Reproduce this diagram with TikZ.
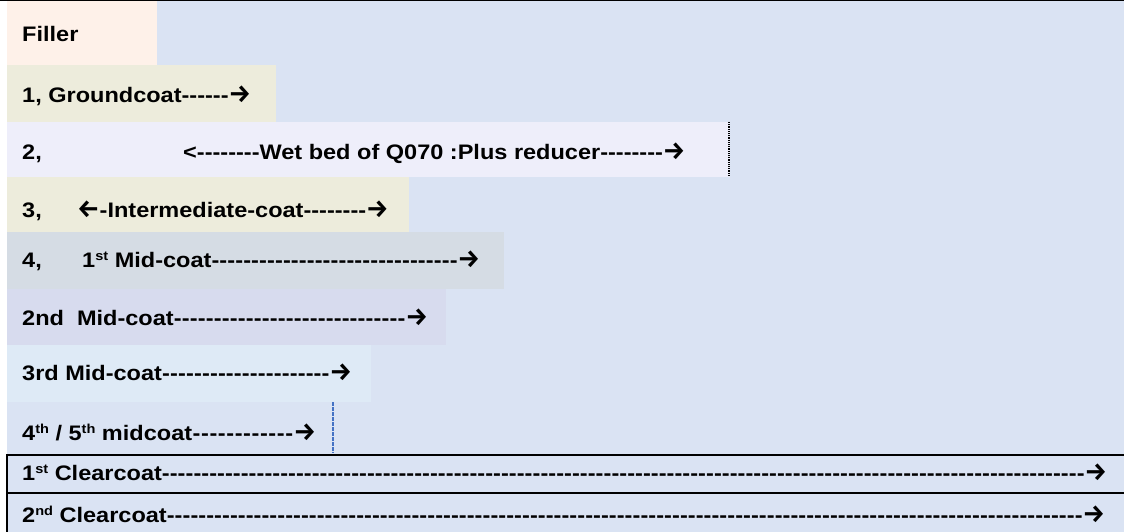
\documentclass[tikz,border=0pt]{standalone}
\usepackage{fontspec}
\setmainfont{Liberation Sans}[Ligatures=TeXOff]
\newfontfamily\widefont{Liberation Sans}[FakeStretch=1.12,Ligatures=TeXOff]
\newfontfamily\arrowfont{Fira Sans}
\definecolor{bgblue}{HTML}{DAE3F3}
\definecolor{cfiller}{HTML}{FEF1E9}
\definecolor{cground}{HTML}{EDECDC}
\definecolor{cwet}{HTML}{EEEEFA}
\definecolor{cmidone}{HTML}{D5DCE4}
\definecolor{cmidtwo}{HTML}{D7DBEE}
\definecolor{cmidthree}{HTML}{DEEAF6}
\definecolor{dashblue}{HTML}{4472C4}
\newcommand{\rarr}{{\arrowfont\bfseries\fontsize{25}{25}\selectfont →}}
\newcommand{\larr}{{\arrowfont\bfseries\fontsize{25}{25}\selectfont ←}}
\newcommand{\sups}[1]{\raisebox{7pt}{\fontsize{13}{13}\selectfont #1}}
\newcommand{\dfill}[2]{\hbox to #1{#2\xleaders\hbox{-}\hfill\rarr}}
\begin{document}
\begin{tikzpicture}[x=1pt,y=-1pt,
  rowbox/.style={anchor=north west, inner sep=0pt, outer sep=0pt, draw=none},
  clearbox/.style={anchor=north west, inner sep=0pt, outer sep=0pt, draw=black, line width=1.6pt, fill=bgblue},
  lbl/.style={anchor=base west, inner sep=0pt, font=\widefont\bfseries\fontsize{21}{25}\selectfont},
]
\clip (0,0) rectangle (1124,532);
\fill[white] (0,0) rectangle (1124,532);
\fill[bgblue] (7,1) rectangle (1124,532);
\draw[line width=1pt] (0,0.5) -- (1124,0.5);
% row boxes
\node[rowbox, fill=cfiller, minimum width=150, minimum height=64] (filler) at (7,1) {};
\node[rowbox, fill=cground, minimum width=269, minimum height=57] (ground) at (7,65) {};
\node[rowbox, fill=cwet, minimum width=723, minimum height=55] (wet) at (7,122) {};
\node[rowbox, fill=cground, minimum width=402, minimum height=55] (inter) at (7,177) {};
\node[rowbox, fill=cmidone, minimum width=497, minimum height=57] (midone) at (7,232) {};
\node[rowbox, fill=cmidtwo, minimum width=439, minimum height=56] (midtwo) at (7,289) {};
\node[rowbox, fill=cmidthree, minimum width=364, minimum height=57] (midthree) at (7,345) {};
\node[clearbox, minimum width=1130, minimum height=38] (clearone) at (7,455) {};
\node[clearbox, minimum width=1130, minimum height=50] (cleartwo) at (7,493) {};
% markers
\draw[densely dotted, line width=1.2pt] ([xshift=-1pt]wet.north east) -- ([xshift=-1pt]wet.south east);
\coordinate (dA) at (333,402);
\coordinate (dB) at (333,453);
\draw[dashblue, line width=1.4pt, dash pattern=on 3.5pt off 1.5pt] (dA) -- (dB);
% labels
\node[lbl] (tfiller) at (22,42) {Filler};
\node[lbl] (tground) at (22,103) {1, Groundcoat------\rarr};
\node[lbl] (twet) at (22,159) {\makebox[161pt][l]{2,}<--------Wet bed of Q070 :Plus reducer--------\rarr};
\node[lbl] (tinter) at (22,217) {\makebox[55pt][l]{3,}\larr-Intermediate-coat--------\rarr};
\node[lbl] (tmidone) at (22,267) {\makebox[60pt][l]{4,}\dfill{398pt}{1\sups{st} Mid-coat}};
\node[lbl] (tmidtwo) at (22,325) {\dfill{406pt}{2nd\ \ Mid-coat}};
\node[lbl] (tmidthree) at (22,380) {\dfill{330pt}{3rd Mid-coat}};
\node[lbl] (tmidfour) at (22,440) {\dfill{294pt}{4\sups{th} / 5\sups{th} midcoat}};
\node[lbl] (tclearone) at (22,480) {\dfill{1085pt}{1\sups{st} Clearcoat}};
\node[lbl] (tcleartwo) at (22,522) {\dfill{1083pt}{2\sups{nd} Clearcoat}};
\end{tikzpicture}
\end{document}
